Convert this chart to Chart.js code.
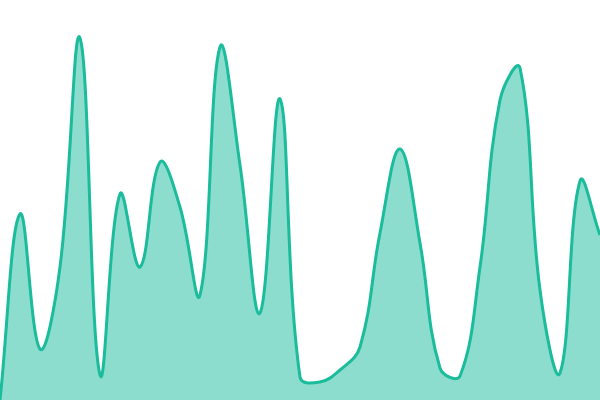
<!DOCTYPE html>
<html>
<head>
<meta charset="utf-8">
<script src="https://cdn.jsdelivr.net/npm/chart.js@4"></script>
<style>
    html, body { margin: 0; padding: 0; background: #ffffff; }
    #wrap { width: 600px; height: 400px; }
</style>
</head>
<body>
<div id="wrap"><canvas id="chart"></canvas></div>
<script>
// Sample positions along x (one every 20px)
const labels = ['0', '1', '2', '3', '4', '5', '6', '7', '8', '9', '10', '11', '12', '13', '14', '15',
    '16', '17', '18', '19', '20', '21', '22', '23', '24', '25', '26', '27', '28', '29', '30'];

// Series values
const values = [0, 186, 51, 133, 362, 25, 206, 133, 238, 193, 105, 353, 235, 87, 301, 23,
    18, 30, 53, 167, 251, 157, 32, 24, 133, 300, 332, 110, 27, 219, 165];

const yMin = 0;
const yMax = 400;

const lineColor = '#1abc9c';
const fillColor = 'rgba(26, 188, 156, 0.5)';

const ctx = document.getElementById('chart');

new Chart(ctx, {
    type: 'line',
    data: {
        labels: labels,
        datasets: [{
            data: values,
            borderColor: lineColor,
            backgroundColor: fillColor,
            borderWidth: 3,
            fill: true,
            tension: 0.4,
            pointRadius: 0
        }]
    },
    options: {
        responsive: true,
        maintainAspectRatio: false,
        animation: false,
        layout: { padding: 0 },
        plugins: {
            legend: { display: false },
            tooltip: { enabled: false }
        },
        scales: {
            x: { display: false },
            y: { display: false, min: yMin, max: yMax }
        }
    }
});
</script>
</body>
</html>
